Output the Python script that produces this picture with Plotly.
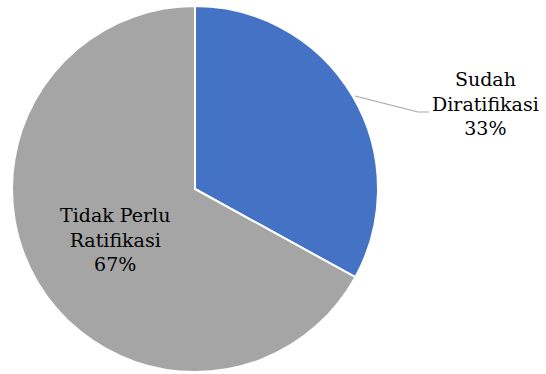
import plotly.graph_objects as go

labels = ["Sudah Diratifikasi", "Tidak Perlu Ratifikasi"]
values = [33, 67]
colors = ["#4472C4", "#A5A5A5"]
label_lines = [["Sudah", "Diratifikasi"], ["Tidak Perlu", "Ratifikasi"]]

W, H = 546, 374
FONT = "DejaVu Serif"

fig = go.Figure(go.Pie(
    labels=labels, values=values, sort=False, direction="clockwise", rotation=0,
    marker=dict(colors=colors, line=dict(color="white", width=2)),
    textinfo="none", hoverinfo="label+percent", showlegend=False,
    domain=dict(x=[12 / W, 378 / W], y=[2 / H, 368 / H]),
))

def txt(i):
    return "<br>".join(label_lines[i] + [f"{values[i]}%"])

fig.add_annotation(x=486 / W, y=1 - 103 / H, xref="paper", yref="paper",
                   xanchor="center", yanchor="middle",
                   text=txt(0), showarrow=False, align="center",
                   font=dict(family=FONT, size=19, color="#000000"))
fig.add_annotation(x=115 / W, y=1 - 239 / H, xref="paper", yref="paper",
                   xanchor="center", yanchor="middle",
                   text=txt(1), showarrow=False, align="center",
                   font=dict(family=FONT, size=19, color="#000000"))
fig.add_shape(type="path", xref="paper", yref="paper",
              path=f"M {355/W} {1-96/H} L {418/W} {1-112/H} L {429/W} {1-112/H}",
              line=dict(color="#A6A6A6", width=1.2))

fig.update_layout(width=W, height=H, margin=dict(l=0, r=0, t=0, b=0),
                  paper_bgcolor="white", plot_bgcolor="white",
                  font=dict(family=FONT))
fig.write_html("out.html")
